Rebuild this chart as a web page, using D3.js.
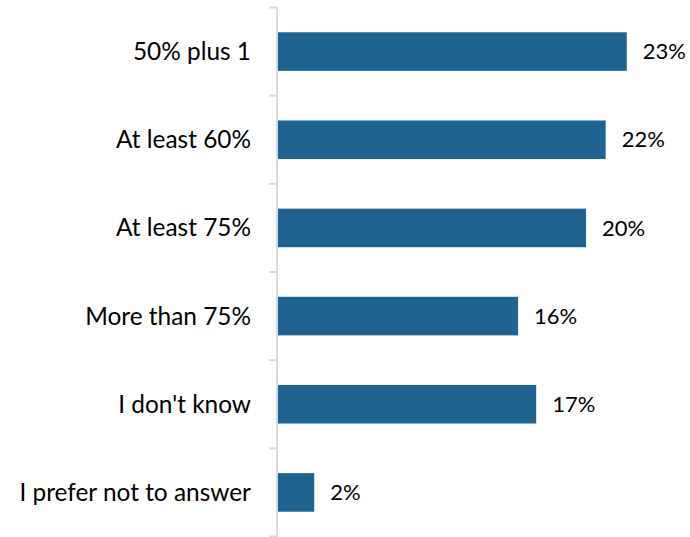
<!DOCTYPE html>
<html><head><meta charset="utf-8">
<script src="https://cdn.jsdelivr.net/npm/d3@7"></script>
<style>body{margin:0;background:#fff}svg{display:block}</style>
</head><body><svg id="c" width="690" height="537"></svg>
<script>
const categories = ["50% plus 1","At least 60%","At least 75%","More than 75%","I don't know","I prefer not to answer"];
const values = [23.1, 21.7, 20.4, 15.9, 17.1, 2.4];
const valueLabels = ["23%","22%","20%","16%","17%","2%"];

const svg = d3.select("#c");
const x0 = 278;
const x = d3.scaleLinear().domain([0, 25]).range([x0, x0 + 377.5]);
const y = d3.scaleBand().domain(categories).range([7.5, 536.5]).paddingInner(0.5625).paddingOuter(0.28125);
const font = "Lato, 'Open Sans', sans-serif";

// bars
svg.selectAll("rect.bar").data(categories).join("rect")
  .attr("class","bar")
  .attr("x", x(0))
  .attr("y", d => y(d))
  .attr("width", (d,i) => x(values[i]) - x(0))
  .attr("height", y.bandwidth())
  .attr("fill", "#1F6391");

// axis
const g = svg.append("g").attr("transform", `translate(${x0 - 1},0)`);
g.append("line").attr("x1",0).attr("x2",0).attr("y1",7).attr("y2",537)
  .attr("stroke","#d9d9d9").attr("stroke-width",2);
const bounds = d3.range(categories.length + 1).map(i => 7.5 + i * (529/6));
g.selectAll("line.tk").data(bounds).join("line").attr("class","tk")
  .attr("x1",-8).attr("x2",0).attr("y1",d=>d).attr("y2",d=>d)
  .attr("stroke","#d9d9d9").attr("stroke-width",2);

// category labels
svg.selectAll("text.cat").data(categories).join("text")
  .attr("class","cat")
  .attr("x", 251)
  .attr("y", d => y(d) + y.bandwidth()/2)
  .attr("dy","0.35em")
  .attr("text-anchor","end")
  .attr("font-family", font).attr("font-size", 24.4).attr("fill","#000")
  .text(d => d);

// value labels
svg.selectAll("text.val").data(categories).join("text")
  .attr("class","val")
  .attr("x", (d,i) => x(values[i]) + 16)
  .attr("y", d => y(d) + y.bandwidth()/2)
  .attr("dy","0.35em")
  .attr("font-family", font).attr("font-size", 22).attr("fill","#000")
  .text((d,i) => valueLabels[i]);
</script></body></html>
